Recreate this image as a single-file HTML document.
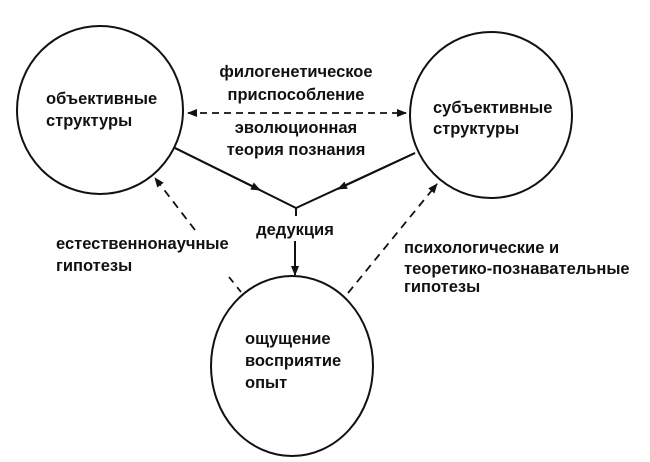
<!DOCTYPE html>
<html><head><meta charset="utf-8"><style>
html,body{margin:0;padding:0;background:#fff;}
svg{display:block;}
text{font-family:"Liberation Sans","DejaVu Sans",sans-serif;font-size:16.5px;font-weight:bold;fill:#111;}
</style></head><body>
<svg width="650" height="462" viewBox="0 0 650 462" xmlns="http://www.w3.org/2000/svg">
<defs>
<marker id="a" markerWidth="10" markerHeight="8" refX="9" refY="4" orient="auto-start-reverse" markerUnits="userSpaceOnUse">
<path d="M0,0 L10,4 L0,8 Z" fill="#111"/></marker>
</defs>
<g fill="none" stroke="#111" stroke-width="2">
<ellipse cx="100" cy="110" rx="83" ry="84"/>
<ellipse cx="491" cy="115" rx="81" ry="83"/>
<ellipse cx="292" cy="366" rx="81" ry="90"/>
<line x1="188" y1="113" x2="406" y2="113" stroke-dasharray="7,5" marker-end="url(#a)" marker-start="url(#a)" stroke-width="1.8"/>
<polyline points="175,148 296,208 415,153"/>
<line x1="175" y1="148" x2="260" y2="190" marker-end="url(#a)"/>
<line x1="415" y1="153" x2="338" y2="189" marker-end="url(#a)"/>
<line x1="296" y1="208" x2="296" y2="216"/>
<line x1="295" y1="241" x2="295" y2="275" marker-end="url(#a)"/>
<line x1="195" y1="230" x2="155" y2="178" stroke-dasharray="8,6" marker-end="url(#a)" stroke-width="1.8"/>
<line x1="229" y1="277" x2="241" y2="292" stroke-dasharray="7,6" stroke-width="1.8"/>
<line x1="348" y1="293" x2="437" y2="184" stroke-dasharray="8,6" marker-end="url(#a)" stroke-width="1.8"/>
</g>
<text x="46" y="104">объективные</text>
<text x="46" y="126">структуры</text>
<text x="433" y="113">субъективные</text>
<text x="433" y="134">структуры</text>
<text x="296" y="77" text-anchor="middle">филогенетическое</text>
<text x="296" y="100" text-anchor="middle">приспособление</text>
<text x="296" y="133" text-anchor="middle">эволюционная</text>
<text x="296" y="155" text-anchor="middle">теория познания</text>
<text x="295" y="235" text-anchor="middle">дедукция</text>
<text x="56" y="249">естественнонаучные</text>
<text x="56" y="271">гипотезы</text>
<text x="404" y="253">психологические и</text>
<text x="404" y="274">теоретико-познавательные</text>
<text x="404" y="292">гипотезы</text>
<text x="245" y="344">ощущение</text>
<text x="245" y="366">восприятие</text>
<text x="245" y="388">опыт</text>
</svg>
</body></html>
